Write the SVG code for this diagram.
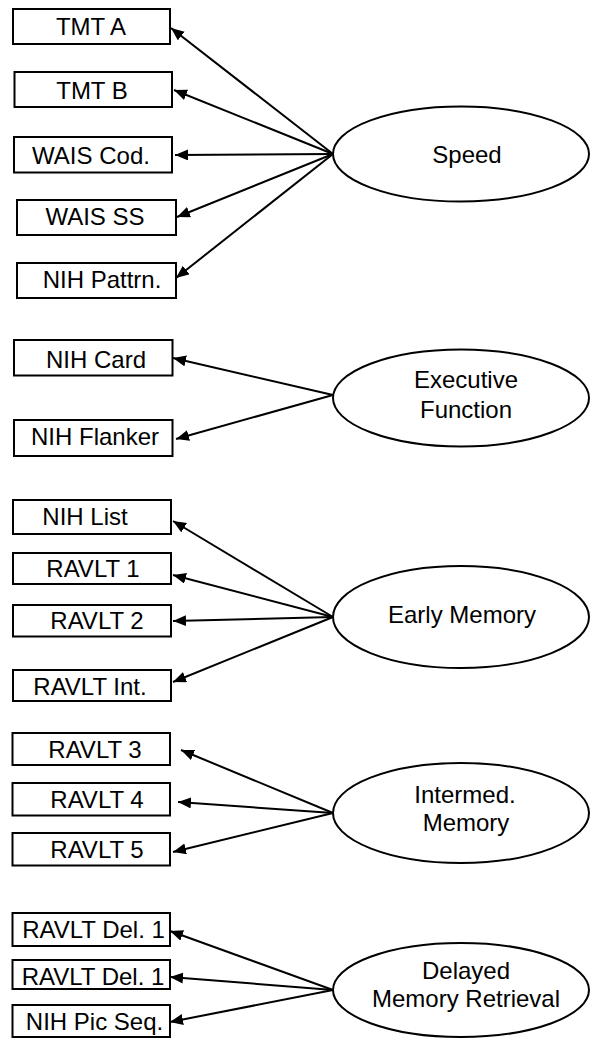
<svg xmlns="http://www.w3.org/2000/svg" width="591" height="1038" viewBox="0 0 591 1038">
<defs>
<marker id="ah" markerUnits="userSpaceOnUse" markerWidth="14" markerHeight="12" refX="13" refY="5.5" orient="auto">
<path d="M0,0 L13,5.5 L0,11 z" fill="#000"/>
</marker>
</defs>
<style>
rect{fill:#fff;stroke:#000;stroke-width:2}
ellipse{fill:#fff;stroke:#000;stroke-width:2}
text{font-family:"Liberation Sans",Arial,sans-serif;font-size:24px;fill:#000;text-anchor:middle}
#connectors line{stroke:#000;stroke-width:2;marker-end:url(#ah)}
</style>
<rect x="0" y="0" width="591" height="1038" style="fill:#fff;stroke:none"/>
<g id="connectors">
<line x1="333" y1="154" x2="171" y2="28"/>
<line x1="333" y1="154" x2="174" y2="90"/>
<line x1="333" y1="154" x2="175" y2="155"/>
<line x1="333" y1="154" x2="177" y2="217"/>
<line x1="333" y1="154" x2="176" y2="278"/>
<line x1="333" y1="395" x2="173" y2="358"/>
<line x1="333" y1="395" x2="176" y2="439"/>
<line x1="333" y1="617" x2="173" y2="521"/>
<line x1="333" y1="617" x2="173" y2="575"/>
<line x1="333" y1="617" x2="173" y2="621"/>
<line x1="333" y1="617" x2="173" y2="682"/>
<line x1="333" y1="813" x2="181" y2="750"/>
<line x1="333" y1="813" x2="178" y2="802"/>
<line x1="333" y1="813" x2="173" y2="852"/>
<line x1="333" y1="990" x2="170" y2="931"/>
<line x1="333" y1="990" x2="170" y2="977"/>
<line x1="333" y1="990" x2="170" y2="1022"/>
</g>
<g id="tmt-a"><rect x="13" y="9" width="157" height="35"/><text x="91" y="35">TMT A</text></g>
<g id="tmt-b"><rect x="14.5" y="72" width="157.5" height="35"/><text x="92" y="99">TMT B</text></g>
<g id="wais-cod"><rect x="14" y="137" width="158" height="35.5"/><text x="91" y="164">WAIS Cod.</text></g>
<g id="wais-ss"><rect x="17" y="200" width="159" height="35"/><text x="95" y="225">WAIS SS</text></g>
<g id="nih-pattrn"><rect x="17" y="263" width="159" height="35"/><text x="102" y="288">NIH Pattrn.</text></g>
<g id="nih-card"><rect x="14" y="340" width="158.5" height="35.5"/><text x="96" y="368">NIH Card</text></g>
<g id="nih-flanker"><rect x="14" y="420" width="158.5" height="36"/><text x="95" y="445">NIH Flanker</text></g>
<g id="nih-list"><rect x="13" y="500" width="158" height="34"/><text x="85" y="525">NIH List</text></g>
<g id="ravlt-1"><rect x="13" y="553" width="158" height="31"/><text x="93" y="577">RAVLT 1</text></g>
<g id="ravlt-2"><rect x="13" y="605" width="158" height="31.5"/><text x="97" y="629">RAVLT 2</text></g>
<g id="ravlt-int"><rect x="13" y="670" width="158" height="31"/><text x="90" y="695">RAVLT Int.</text></g>
<g id="ravlt-3"><rect x="12.5" y="733" width="157.5" height="32"/><text x="95" y="758">RAVLT 3</text></g>
<g id="ravlt-4"><rect x="12.5" y="783" width="157.5" height="32.5"/><text x="97" y="808">RAVLT 4</text></g>
<g id="ravlt-5"><rect x="12.5" y="833" width="157.5" height="32.5"/><text x="97" y="858">RAVLT 5</text></g>
<g id="ravlt-del-1a"><rect x="12.5" y="913" width="157.5" height="33"/><text x="93.5" y="938">RAVLT Del. 1</text></g>
<g id="ravlt-del-1b"><rect x="12.5" y="960" width="157.5" height="29"/><text x="93" y="985">RAVLT Del. 1</text></g>
<g id="nih-pic-seq"><rect x="12.5" y="1005" width="157.5" height="32"/><text x="94.5" y="1030">NIH Pic Seq.</text></g>
<g id="speed"><ellipse cx="461" cy="154" rx="128" ry="47.5"/><text x="467" y="163">Speed</text></g>
<g id="executive-function"><ellipse cx="461" cy="398" rx="128" ry="48.5"/><text x="466" y="388">Executive</text><text x="466" y="418">Function</text></g>
<g id="early-memory"><ellipse cx="461" cy="617" rx="128" ry="51"/><text x="462" y="623">Early Memory</text></g>
<g id="intermed-memory"><ellipse cx="461" cy="813" rx="128" ry="50"/><text x="465" y="803">Intermed.</text><text x="466" y="831">Memory</text></g>
<g id="delayed-memory-retrieval"><ellipse cx="461" cy="990" rx="128" ry="47"/><text x="466" y="979">Delayed</text><text x="466" y="1007">Memory Retrieval</text></g>
</svg>
